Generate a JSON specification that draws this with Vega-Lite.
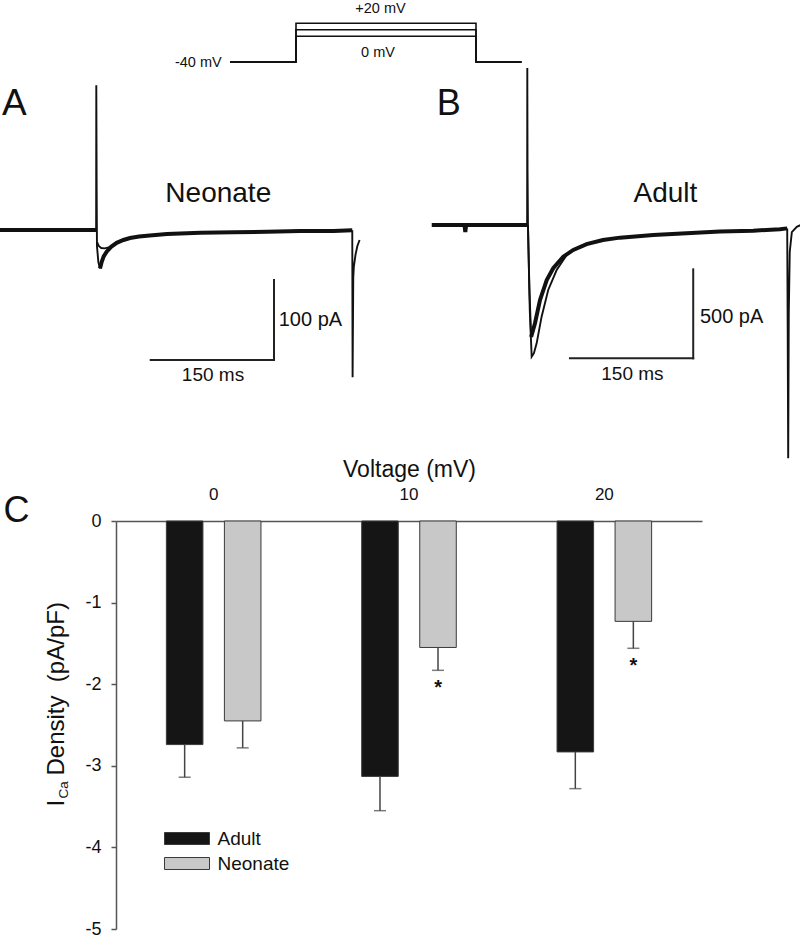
{
"$schema": "https://vega.github.io/schema/vega-lite/v6.json",
"width": 800, "height": 939,
"autosize": {"type": "none"},
"padding": 0,
"background": "#ffffff",
"config": {"font": "Liberation Sans", "view": {"stroke": null}, "axis": {"grid": false}},
"resolve": {"scale": {"x": "independent", "y": "independent"}, "axis": {"x": "independent", "y": "independent"}},
"datasets": {
 "protocol": [
  {"step":"0","k":0,"t":-110,"v":-40},{"step":"0","k":1,"t":0,"v":-40},{"step":"0","k":2,"t":0,"v":0},{"step":"0","k":3,"t":300,"v":0},{"step":"0","k":4,"t":300,"v":-40},{"step":"0","k":5,"t":376,"v":-40},
  {"step":"10","k":0,"t":-110,"v":-40},{"step":"10","k":1,"t":0,"v":-40},{"step":"10","k":2,"t":0,"v":10},{"step":"10","k":3,"t":300,"v":10},{"step":"10","k":4,"t":300,"v":-40},{"step":"10","k":5,"t":376,"v":-40},
  {"step":"20","k":0,"t":-110,"v":-40},{"step":"20","k":1,"t":0,"v":-40},{"step":"20","k":2,"t":0,"v":20},{"step":"20","k":3,"t":300,"v":20},{"step":"20","k":4,"t":300,"v":-40},{"step":"20","k":5,"t":376,"v":-40}
 ],
 "protocolLabels": [
  {"t":-162.8,"v":-47.3,"label":"-40 mV"},
  {"t":140.8,"v":35.2,"label":"+20 mV"},
  {"t":136.7,"v":-32.7,"label":"0 mV"}
 ],
 "traceA": [
  {"s":"base","t":-117.2,"i":0},{"s":"base","t":-90,"i":0},{"s":"base","t":-60,"i":0},{"s":"base","t":-30,"i":0},{"s":"base","t":-0.2,"i":0},
  {"s":"on","t":-0.2,"i":0},{"s":"on","t":0,"i":181},{"s":"on","t":0.4,"i":60},{"s":"on","t":0.8,"i":-20},{"s":"on","t":2.5,"i":-40},{"s":"on","t":4.5,"i":-48},
  {"s":"main","t":4.5,"i":-48},{"s":"main","t":6.5,"i":-40},{"s":"main","t":9,"i":-33},{"s":"main","t":12.6,"i":-27},{"s":"main","t":18,"i":-21},{"s":"main","t":24.8,"i":-16},{"s":"main","t":33,"i":-12.5},{"s":"main","t":41,"i":-10},{"s":"main","t":52,"i":-8.2},{"s":"main","t":65,"i":-7},{"s":"main","t":86,"i":-5},{"s":"main","t":126.6,"i":-3.3},{"s":"main","t":167,"i":-2.9},{"s":"main","t":207.7,"i":-2.1},{"s":"main","t":248,"i":-1.2},{"s":"main","t":288.6,"i":-1.2},{"s":"main","t":311.4,"i":-0.3},
  {"s":"inner","t":0.8,"i":-15},{"s":"inner","t":3,"i":-20},{"s":"inner","t":6,"i":-22.5},{"s":"inner","t":10,"i":-23},{"s":"inner","t":14,"i":-22},{"s":"inner","t":18,"i":-21},
  {"s":"off","t":311.4,"i":-0.3},{"s":"off","t":311.8,"i":-184},{"s":"off","t":312.6,"i":-60},{"s":"off","t":313.3,"i":-46},{"s":"off","t":315.3,"i":-31},{"s":"off","t":317.6,"i":-20},{"s":"off","t":320.3,"i":-12.5}
 ],
 "traceB": [
  {"s":"base","t":-115.6,"i":0},{"s":"base","t":-100,"i":0},{"s":"base","t":-76,"i":0},{"s":"base","t":-75,"i":-40},{"s":"base","t":-74,"i":0},{"s":"base","t":-50,"i":0},{"s":"base","t":-25,"i":0},{"s":"base","t":-0.2,"i":0},
  {"s":"on","t":-0.2,"i":0},{"s":"on","t":0,"i":882},{"s":"on","t":0.3,"i":300},{"s":"on","t":0.8,"i":0},{"s":"on","t":2.5,"i":-350},{"s":"on","t":4.6,"i":-629},
  {"s":"main","t":4.6,"i":-629},{"s":"main","t":9.3,"i":-552},{"s":"main","t":15.4,"i":-421},{"s":"main","t":23.5,"i":-309},{"s":"main","t":31.4,"i":-243},{"s":"main","t":43.5,"i":-178},{"s":"main","t":55.6,"i":-140},{"s":"main","t":71.8,"i":-107},{"s":"main","t":91.5,"i":-84},{"s":"main","t":112.1,"i":-71},{"s":"main","t":152.4,"i":-56},{"s":"main","t":192.7,"i":-47},{"s":"main","t":233,"i":-37},{"s":"main","t":273.3,"i":-32},{"s":"main","t":305.6,"i":-24},{"s":"main","t":314.4,"i":-19},
  {"s":"inner","t":0.8,"i":0},{"s":"inner","t":3,"i":-480},{"s":"inner","t":5.3,"i":-740},{"s":"inner","t":8,"i":-720},{"s":"inner","t":11.3,"i":-665},{"s":"inner","t":17.3,"i":-515},{"s":"inner","t":25.3,"i":-365},{"s":"inner","t":35.5,"i":-253},{"s":"inner","t":47.5,"i":-170},
  {"s":"off","t":314.4,"i":-19},{"s":"off","t":315,"i":-600},{"s":"off","t":315.6,"i":-1311},{"s":"off","t":316.3,"i":-500},{"s":"off","t":317.5,"i":-150},{"s":"off","t":320,"i":-40},{"s":"off","t":326,"i":-10},{"s":"off","t":331,"i":0}
 ],
 "bars": [
  {"voltage":"0","group":"Adult","mean":-2.74,"err":-3.14},
  {"voltage":"0","group":"Neonate","mean":-2.45,"err":-2.78},
  {"voltage":"10","group":"Adult","mean":-3.13,"err":-3.55},
  {"voltage":"10","group":"Neonate","mean":-1.55,"err":-1.83,"sig":"*"},
  {"voltage":"20","group":"Adult","mean":-2.83,"err":-3.28},
  {"voltage":"20","group":"Neonate","mean":-1.23,"err":-1.56,"sig":"*"}
 ]
},
"layer": [
 {
  "layer": [
   {"data": {"name": "protocol"},
    "mark": {"type": "line", "color": "#111111", "strokeWidth": 1.6},
    "encoding": {
     "x": {"field": "t", "type": "quantitative", "scale": {"domain": [0, 300], "range": [296, 476], "nice": false, "zero": false}, "axis": null},
     "y": {"field": "v", "type": "quantitative", "scale": {"domain": [-40, 20], "range": [62, 23.3], "nice": false, "zero": false}, "axis": null},
     "detail": {"field": "step"},
     "order": {"field": "k"}}},
   {"data": {"name": "protocolLabels"},
    "mark": {"type": "text", "fontSize": 14.5, "color": "#111111", "align": "center", "baseline": "alphabetic"},
    "encoding": {
     "x": {"field": "t", "type": "quantitative", "axis": null},
     "y": {"field": "v", "type": "quantitative", "axis": null},
     "text": {"field": "label"}}}
  ]
 },
 {
  "layer": [
   {"data": {"name": "traceA"},
    "transform": [{"filter": {"field": "s", "oneOf": ["base", "main"]}}],
    "mark": {"type": "line", "color": "#111111", "strokeWidth": 4},
    "encoding": {
     "x": {"field": "t", "type": "quantitative", "scale": {"domain": [0, 150], "range": [96.3, 219.6], "nice": false, "zero": false}, "axis": null},
     "y": {"field": "i", "type": "quantitative", "scale": {"domain": [0, 100], "range": [230, 150], "nice": false, "zero": false}, "axis": null},
     "detail": {"field": "s"}}},
   {"data": {"name": "traceA"},
    "transform": [{"filter": {"field": "s", "oneOf": ["on", "inner", "off"]}}],
    "mark": {"type": "line", "color": "#111111", "strokeWidth": 1.9},
    "encoding": {
     "x": {"field": "t", "type": "quantitative", "axis": null},
     "y": {"field": "i", "type": "quantitative", "axis": null},
     "detail": {"field": "s"}}},
   {"data": {"values": [{"t": 66.2, "t2": 216.2, "i": -162.5, "i2": -162.5}, {"t": 216.2, "t2": 216.2, "i": -62.5, "i2": -162.5}]},
    "mark": {"type": "rule", "color": "#222222", "strokeWidth": 2, "strokeCap": "square"},
    "encoding": {
     "x": {"field": "t", "type": "quantitative", "axis": null}, "x2": {"field": "t2"},
     "y": {"field": "i", "type": "quantitative", "axis": null}, "y2": {"field": "i2"}}},
   {"data": {"values": [{"t": -114.7, "i": 143.8, "label": "A"}]},
    "mark": {"type": "text", "fontSize": 37, "color": "#111111", "align": "left", "baseline": "alphabetic"},
    "encoding": {"x": {"field": "t", "type": "quantitative", "axis": null}, "y": {"field": "i", "type": "quantitative", "axis": null}, "text": {"field": "label"}}},
   {"data": {"values": [{"t": 148.4, "i": 35.4, "label": "Neonate"}]},
    "mark": {"type": "text", "fontSize": 28, "color": "#111111", "align": "center", "baseline": "alphabetic"},
    "encoding": {"x": {"field": "t", "type": "quantitative", "axis": null}, "y": {"field": "i", "type": "quantitative", "axis": null}, "text": {"field": "label"}}},
   {"data": {"values": [{"t": 221.9, "i": -120, "label": "100 pA"}]},
    "mark": {"type": "text", "fontSize": 20, "color": "#111111", "align": "left", "baseline": "alphabetic"},
    "encoding": {"x": {"field": "t", "type": "quantitative", "axis": null}, "y": {"field": "i", "type": "quantitative", "axis": null}, "text": {"field": "label"}}},
   {"data": {"values": [{"t": 142, "i": -188.4, "label": "150 ms"}]},
    "mark": {"type": "text", "fontSize": 19, "color": "#111111", "align": "center", "baseline": "alphabetic"},
    "encoding": {"x": {"field": "t", "type": "quantitative", "axis": null}, "y": {"field": "i", "type": "quantitative", "axis": null}, "text": {"field": "label"}}}
  ]
 },
 {
  "layer": [
   {"data": {"name": "traceB"},
    "transform": [{"filter": {"field": "s", "oneOf": ["base", "main"]}}],
    "mark": {"type": "line", "color": "#111111", "strokeWidth": 4},
    "encoding": {
     "x": {"field": "t", "type": "quantitative", "scale": {"domain": [0, 150], "range": [527.3, 651.3], "nice": false, "zero": false}, "axis": null},
     "y": {"field": "i", "type": "quantitative", "scale": {"domain": [0, 500], "range": [225, 136], "nice": false, "zero": false}, "axis": null},
     "detail": {"field": "s"}}},
   {"data": {"name": "traceB"},
    "transform": [{"filter": {"field": "s", "oneOf": ["on", "inner", "off"]}}],
    "mark": {"type": "line", "color": "#111111", "strokeWidth": 1.9},
    "encoding": {
     "x": {"field": "t", "type": "quantitative", "axis": null},
     "y": {"field": "i", "type": "quantitative", "axis": null},
     "detail": {"field": "s"}}},
   {"data": {"values": [{"t": 51.6, "t2": 200.7, "i": -749, "i2": -749}, {"t": 200.7, "t2": 200.7, "i": -249, "i2": -749}]},
    "mark": {"type": "rule", "color": "#222222", "strokeWidth": 2, "strokeCap": "square"},
    "encoding": {
     "x": {"field": "t", "type": "quantitative", "axis": null}, "x2": {"field": "t2"},
     "y": {"field": "i", "type": "quantitative", "axis": null}, "y2": {"field": "i2"}}},
   {"data": {"values": [{"t": -109.6, "i": 618, "label": "B"}]},
    "mark": {"type": "text", "fontSize": 36, "color": "#111111", "align": "left", "baseline": "alphabetic"},
    "encoding": {"x": {"field": "t", "type": "quantitative", "axis": null}, "y": {"field": "i", "type": "quantitative", "axis": null}, "text": {"field": "label"}}},
   {"data": {"values": [{"t": 167.1, "i": 130.9, "label": "Adult"}]},
    "mark": {"type": "text", "fontSize": 28, "color": "#111111", "align": "center", "baseline": "alphabetic"},
    "encoding": {"x": {"field": "t", "type": "quantitative", "axis": null}, "y": {"field": "i", "type": "quantitative", "axis": null}, "text": {"field": "label"}}},
   {"data": {"values": [{"t": 208.8, "i": -552, "label": "500 pA"}]},
    "mark": {"type": "text", "fontSize": 20, "color": "#111111", "align": "left", "baseline": "alphabetic"},
    "encoding": {"x": {"field": "t", "type": "quantitative", "axis": null}, "y": {"field": "i", "type": "quantitative", "axis": null}, "text": {"field": "label"}}},
   {"data": {"values": [{"t": 127.2, "i": -871, "label": "150 ms"}]},
    "mark": {"type": "text", "fontSize": 19, "color": "#111111", "align": "center", "baseline": "alphabetic"},
    "encoding": {"x": {"field": "t", "type": "quantitative", "axis": null}, "y": {"field": "i", "type": "quantitative", "axis": null}, "text": {"field": "label"}}}
  ]
 },
 {
  "data": {"name": "bars"},
  "layer": [
   {"mark": {"type": "bar", "stroke": "#3a3a3a", "strokeWidth": 1},
    "encoding": {
     "x": {"field": "voltage", "type": "nominal", "sort": ["0", "10", "20"],
      "scale": {"range": [116, 702], "paddingInner": 0, "paddingOuter": 0},
      "axis": {"orient": "top", "offset": -521, "title": "Voltage (mV)", "titleFontSize": 23, "titleFontWeight": "normal", "titleColor": "#111111", "titlePadding": 4,
       "labelFontSize": 17, "labelColor": "#111111", "labelAngle": 0, "labelPadding": 18, "ticks": false, "tickSize": 0, "domainColor": "#555555", "domainWidth": 1.5}},
     "xOffset": {"field": "group", "type": "nominal", "scale": {"domain": ["Adult", "Neonate"], "paddingInner": 0.37, "paddingOuter": 0.868}},
     "y": {"field": "mean", "type": "quantitative", "scale": {"domain": [-5, 0], "range": [929, 521], "nice": false, "zero": false},
      "axis": {"orient": "left", "offset": -116, "values": [0, -1, -2, -3, -4, -5], "labelExpr": "datum.value + ''", "labelFontSize": 18, "labelColor": "#111111",
       "tickSize": 5, "tickColor": "#555555", "tickWidth": 1.5, "labelPadding": 10, "domainColor": "#555555", "domainWidth": 1.5, "title": null}},
     "y2": {"datum": 0},
     "color": {"field": "group", "type": "nominal", "scale": {"domain": ["Adult", "Neonate"], "range": ["#151515", "#c8c8c8"]},
      "legend": {"orient": "none", "legendX": 177.5, "legendY": 829, "title": null, "padding": 0, "symbolType": "M-3.75,-1H3.75V1H-3.75Z", "symbolSize": 144,
       "symbolStrokeColor": "#3a3a3a", "symbolStrokeWidth": 1, "symbolOpacity": 1, "labelFontSize": 19, "labelColor": "#111111", "labelOffset": 21, "rowPadding": 5}}}},
   {"mark": {"type": "rule", "color": "#444444", "strokeWidth": 1.5},
    "encoding": {
     "x": {"field": "voltage", "type": "nominal", "sort": ["0", "10", "20"]},
     "xOffset": {"field": "group", "type": "nominal"},
     "y": {"field": "mean", "type": "quantitative"},
     "y2": {"field": "err"}}},
   {"mark": {"type": "tick", "color": "#444444", "thickness": 1.5, "size": 12},
    "encoding": {
     "x": {"field": "voltage", "type": "nominal", "sort": ["0", "10", "20"]},
     "xOffset": {"field": "group", "type": "nominal"},
     "y": {"field": "err", "type": "quantitative"}}},
   {"transform": [{"filter": {"field": "sig", "equal": "*"}}],
    "mark": {"type": "text", "fontSize": 20, "fontWeight": "bold", "color": "#111111", "align": "center", "baseline": "alphabetic", "dy": 24},
    "encoding": {
     "x": {"field": "voltage", "type": "nominal", "sort": ["0", "10", "20"]},
     "xOffset": {"field": "group", "type": "nominal"},
     "y": {"field": "err", "type": "quantitative"},
     "text": {"field": "sig"}}}
  ]
 },
 {
  "data": {"name": "bars"},
  "mark": {"type": "point", "opacity": 0},
  "encoding": {
   "x": {"field": "voltage", "type": "nominal",
    "axis": {"orient": "top", "offset": 0, "title": "C", "labels": false, "ticks": false, "domain": false, "titleFontSize": 36, "titleFontWeight": "normal", "titleColor": "#111111", "titleAngle": 0, "titleAlign": "left", "titleBaseline": "alphabetic", "titleX": 3, "titleY": 521}},
   "y": {"field": "mean", "type": "quantitative", "scale": {"domain": [-5, 0], "range": [929, 521], "nice": false, "zero": false},
    "axis": {"orient": "left", "offset": -116, "title": "I", "labels": false, "ticks": false, "domain": false, "titleFontSize": 24, "titleFontWeight": "normal", "titleColor": "#111111", "titleAngle": 270, "titleAlign": "left", "titleBaseline": "alphabetic", "titleX": -53, "titleY": 806}}
  }
 },
 {
  "data": {"name": "bars"},
  "mark": {"type": "point", "opacity": 0},
  "encoding": {
   "x": {"field": "voltage", "type": "nominal", "axis": null},
   "y": {"field": "mean", "type": "quantitative", "scale": {"domain": [-5, 0], "range": [929, 521], "nice": false, "zero": false},
    "axis": {"orient": "left", "offset": -116, "title": "Ca", "labels": false, "ticks": false, "domain": false, "titleFontSize": 13.5, "titleFontWeight": "normal", "titleColor": "#111111", "titleAngle": 270, "titleAlign": "left", "titleBaseline": "alphabetic", "titleX": -48.5, "titleY": 798}}
  }
 },
 {
  "data": {"name": "bars"},
  "mark": {"type": "point", "opacity": 0},
  "encoding": {
   "x": {"field": "voltage", "type": "nominal", "axis": null},
   "y": {"field": "mean", "type": "quantitative", "scale": {"domain": [-5, 0], "range": [929, 521], "nice": false, "zero": false},
    "axis": {"orient": "left", "offset": -116, "title": "Density\u00a0 (pA/pF)", "labels": false, "ticks": false, "domain": false, "titleFontSize": 24, "titleFontWeight": "normal", "titleColor": "#111111", "titleAngle": 270, "titleAlign": "left", "titleBaseline": "alphabetic", "titleX": -53, "titleY": 775}}
  }
 }
]
}
